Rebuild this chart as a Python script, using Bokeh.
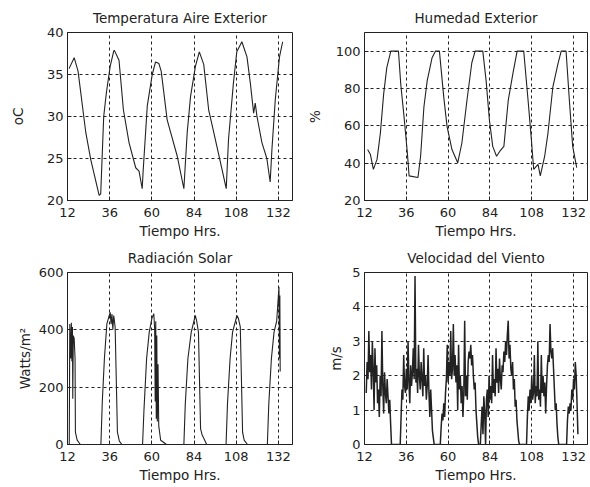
from bokeh.plotting import figure
from bokeh.layouts import gridplot
from bokeh.models import Range1d, FixedTicker
from bokeh.embed import file_html
from bokeh.resources import INLINE

# ---------------- data ----------------
x_ticks = [12, 36, 60, 84, 108, 132]

temp_t = [12.9, 15.8, 18.0, 22.4, 25.2, 30.0, 30.9, 32.6, 34.1, 36.3, 38.2, 38.6, 41.3, 43.8,
          47.0, 50.8, 52.7, 54.5, 55.0, 57.4, 60.2, 62.1, 64.0, 65.3, 68.7, 74.4, 78.2,
          80.1, 82.0, 84.8, 87.0, 89.5, 92.3, 95.2, 99.9, 102.3, 103.6, 106.4, 108.3,
          111.2, 114.1, 116.0, 117.9, 118.8, 119.8, 122.6, 125.4, 127.3, 128.3, 130.2,
          132.6, 134.4]
temp_v = [35.7, 37.0, 35.4, 28.1, 24.9, 20.6, 20.8, 30.0, 32.8, 36.0, 37.7, 37.9, 36.7, 30.8,
          26.9, 23.9, 23.5, 21.4, 23.4, 31.3, 35.0, 36.5, 36.3, 35.4, 29.6, 25.3, 21.4,
          28.1, 32.4, 36.0, 37.7, 36.2, 30.8, 28.1, 23.7, 21.4, 27.3, 34.0, 37.7, 38.9,
          37.1, 34.0, 30.4, 31.6, 30.0, 26.9, 25.0, 22.2, 26.1, 32.0, 37.1, 38.9]

hum_t = [13.8, 15.4, 17.1, 19.2, 21.1, 23.0, 24.8, 27.1, 31.5, 32.8, 34.7, 36.6, 37.6, 42.7,
         44.2, 46.1, 48.0, 50.8, 52.7, 55.0, 57.5, 59.4, 62.2, 65.5, 67.9, 70.8, 73.6,
         75.5, 79.9, 81.8, 83.7, 85.6, 87.8, 89.7, 92.0, 94.5, 97.3, 99.6, 103.4, 105.9,
         107.8, 109.1, 111.6, 112.9, 115.4, 117.3, 120.1, 123.0, 124.9, 127.7, 129.6,
         131.5, 133.8]
hum_v = [47.3, 44.6, 36.7, 42.0, 56.0, 77.1, 91.2, 100, 100, 82.4, 64.8, 45.5, 33.2, 32.3,
         43.7, 70.1, 84.2, 96.5, 100, 100, 75.4, 59.6, 47.3, 40.2, 50.8, 73.6, 93.8,
         100, 100, 84.2, 63.1, 49.0, 43.7, 46.4, 49.0, 73.6, 88.6, 100, 100, 73.6,
         52.5, 36.7, 39.3, 33.2, 43.7, 56.0, 80.7, 93.0, 100, 100, 73.6, 49.0, 37.6]

rad_t = [13.0, 13.3, 13.8, 14.2, 14.5, 14.8, 15.0, 15.3, 15.8, 16.3, 16.5, 17.5, 19.3,
         31.0, 31.8, 33.0, 34.4, 35.5, 36.3, 36.8, 37.3, 37.8, 38.3, 39.1, 40.4, 41.5, 42.9,
         54.7, 55.5, 57.0, 58.5, 60.0, 61.1, 61.6, 61.9, 62.2, 62.5, 62.8, 63.1, 63.5, 63.9,
         65.0, 68.3,
         78.2, 79.0, 80.5, 82.4, 84.7, 85.5, 86.5, 87.7, 88.5, 91.2,
         102.2, 103.0, 104.5, 105.9, 108.4, 109.2, 110.3, 111.6, 112.5, 114.4,
         125.7, 126.5, 128.0, 129.5, 131.0, 132.3, 132.6, 132.8, 133.0]
rad_v = [0, 420, 300, 425, 290, 410, 160, 380, 370, 300, 43, 15, 0,
         0, 150, 300, 421, 445, 461, 420, 455, 400, 450, 410, 43, 12, 0,
         0, 120, 300, 392, 440, 456, 400, 150, 430, 90, 380, 80, 280, 66,
         15, 0,
         0, 140, 300, 392, 450, 430, 392, 55, 35, 0,
         0, 140, 300, 392, 450, 440, 410, 43, 15, 0,
         0, 140, 300, 392, 430, 549, 300, 520, 255]

wind_start = 13.0
wind_step = 0.5
wind_v = [1.5, 2.4, 1.9, 3.3, 2.1,
          2.6, 1.6, 3.0, 2.2, 1.0, 2.8,
          1.8, 2.3, 1.2, 1.6, 0.8, 2.0,
          1.4, 3.3, 1.7, 0.9, 2.1, 1.5,
          1.2, 1.9, 1.4, 0.9, 1.3, 0.6,
          0, 0, 0, 0, 0, 0, 0, 0, 0, 0, 0,
          0.8, 1.6, 1.3, 2.6, 1.7, 1.5, 2.2,
          1.6, 3.0, 1.8, 1.2, 2.3, 1.7,
          2.1, 2.8, 1.9, 4.9, 1.8, 2.2,
          1.5, 2.9, 2.0, 1.6, 2.4, 1.9,
          1.4, 2.8, 1.7, 2.0, 1.3, 1.7,
          2.6, 1.5, 0.8, 1.6, 1.0, 0.4,
          0.2, 0, 0, 0, 0, 0, 0, 0, 0,
          0.5, 0.9, 0.7, 1.2, 0.8, 1.5, 1.9,
          2.9, 1.8, 2.4, 2.0, 3.3, 1.9,
          2.2, 3.5, 2.0, 2.6, 1.8, 2.3,
          1.0, 2.9, 1.6, 2.0, 1.2, 1.7,
          0.8, 1.5, 3.6, 1.4, 2.0, 1.3,
          2.4, 2.7, 2.5, 2.9, 2.3, 2.6,
          2.0, 1.6, 1.8, 1.0, 0.6, 0.2,
          0, 0, 0,
          0.6, 1.1, 0.3, 1.4, 0.9, 0, 1.3,
          1.6, 0.8, 2.0, 1.3, 1.7, 1.2,
          2.6, 1.5, 1.9, 1.4, 2.8, 1.8,
          2.2, 1.5, 2.5, 1.9, 1.6, 2.3,
          2.1, 2.7, 2.4, 3.0, 2.6, 3.2,
          3.6, 2.5, 2.9, 2.2, 2.0, 2.4,
          1.6, 1.9, 1.1, 1.3, 0.7, 0.4,
          0.1, 0, 0, 0, 0, 0, 0, 0, 0, 0,
          0.8, 1.4, 1.0, 1.6, 1.2, 2.0,
          1.3, 1.5, 2.6, 1.2, 1.7, 1.4,
          3.0, 1.3, 1.6, 1.1, 2.6, 1.5,
          2.0, 1.4, 1.8, 0.9, 1.7, 2.3,
          2.6, 2.4, 3.5, 2.7, 2.5, 2.8,
          2.2, 1.6, 1.0, 1.2, 0.6, 0.2,
          0, 0, 0, 0, 0, 0, 0, 0, 0, 0,
          0.7, 1.1, 0.9, 1.2, 1.0, 1.6,
          1.3, 1.9, 1.6, 2.4, 2.0, 1.2,
          0.3]
wind_t = [wind_start + wind_step * i for i in range(len(wind_v))]

titles = ["Temperatura Aire Exterior", "Humedad Exterior", "Radiación Solar", "Velocidad del Viento"]
ylabels = ["oC", "%", "Watts/m²", "m/s"]
xlabel = "Tiempo Hrs."
temp_ticks = [20, 25, 30, 35, 40]
hum_ticks = [20, 40, 60, 80, 100]
rad_ticks = [0, 200, 400, 600]
wind_ticks = [0, 1, 2, 3, 4, 5]

# ---------------- styling ----------------
FONT = "DejaVu Sans"
INK = "#222222"


def make(title, ylabel, yr, yticks, left_col, top_row, ystand):
    if left_col:
        w, bl, br = 295, 67, 3
    else:
        w, bl, br = 293, 69, 1
    if top_row:
        h, bt, bb, ts = 241, 32, 39, 14
    else:
        h, bt, bb, ts = 244, 31, 41, 13
    p = figure(width=w, height=h, output_backend="svg", toolbar_location=None,
               x_range=Range1d(12, 140), y_range=Range1d(*yr),
               min_border_left=bl, min_border_right=br, min_border_top=bt, min_border_bottom=bb,
               title=title, x_axis_label=xlabel, y_axis_label=ylabel)
    p.title.align = "center"
    p.title.text_font = FONT
    p.title.text_font_size = "13.5px"
    p.title.text_font_style = "normal"
    p.title.text_color = INK
    p.title.standoff = ts
    p.xaxis.ticker = FixedTicker(ticks=x_ticks)
    p.yaxis.ticker = FixedTicker(ticks=yticks)
    for ax in (p.xaxis[0], p.yaxis[0]):
        ax.axis_line_color = INK
        ax.major_tick_line_color = INK
        ax.major_tick_in = 4
        ax.major_tick_out = 0
        ax.minor_tick_line_color = None
        ax.major_label_text_font = FONT
        ax.major_label_text_font_size = "13px"
        ax.major_label_text_color = INK
        ax.major_label_standoff = 4
        ax.axis_label_text_font = FONT
        ax.axis_label_text_font_size = "13.5px"
        ax.axis_label_text_font_style = "normal"
        ax.axis_label_text_color = INK
    p.xaxis.major_label_standoff = 7
    p.xaxis.axis_label_standoff = 3
    p.yaxis.axis_label_standoff = ystand
    p.grid.grid_line_color = INK
    p.grid.grid_line_dash = "3 3"
    p.grid.grid_line_width = 1
    p.outline_line_color = INK
    p.outline_line_width = 1
    p.outline_line_alpha = 1
    p.background_fill_color = "white"
    p.border_fill_color = "white"
    return p


p1 = make(titles[0], ylabels[0], (20, 40), temp_ticks, True, True, 18)
p1.line(temp_t, temp_v, line_color=INK, line_width=1.1)

p2 = make(titles[1], ylabels[1], (20, 110), hum_ticks, False, True, 10)
p2.line(hum_t, hum_v, line_color=INK, line_width=1.1)

p3 = make(titles[2], ylabels[2], (0, 600), rad_ticks, True, False, 3)
p3.line(rad_t, rad_v, line_color=INK, line_width=1.1)

p4 = make(titles[3], ylabels[3], (0, 5), wind_ticks, False, False, 5)
p4.line(wind_t, wind_v, line_color=INK, line_width=1.5)

grid = gridplot([[p1, p2], [p3, p4]], toolbar_location=None)

open("out.html", "w").write(file_html(grid, INLINE))
